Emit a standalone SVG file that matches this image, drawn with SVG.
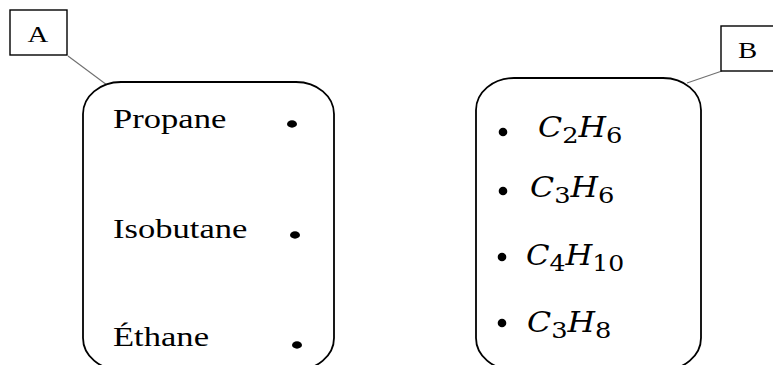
<svg xmlns="http://www.w3.org/2000/svg" width="773" height="365" viewBox="0 0 773 365">
<style>
.box{fill:none;stroke:#000;stroke-width:1.8}
.lbl{fill:#fff;stroke:#000;stroke-width:1.4}
.lead{stroke:#707070;stroke-width:1.1;fill:none}
.t{font-family:"Liberation Serif","Times New Roman",serif;font-size:28px;fill:#000}
.l{font-family:"Liberation Serif","Times New Roman",serif;font-size:24px;fill:#000}
.f{font-family:"DejaVu Serif","Liberation Serif",serif;font-size:27px;font-style:italic;fill:#000}
.s{font-style:normal;font-size:22px}
.dot{fill:#000}
</style>
<g id="connectors">
<line class="lead" x1="68" y1="56" x2="107" y2="85"/>
<line class="lead" x1="687" y1="83" x2="722" y2="71"/>
</g>
<g id="labelA">
<rect class="lbl" x="10" y="10" width="57" height="45"/>
<text class="l" text-anchor="middle" transform="translate(38,42) scale(1.2,1)">A</text>
</g>
<g id="labelB">
<rect class="lbl" x="721" y="26" width="60" height="45"/>
<text class="l" text-anchor="middle" transform="translate(747.5,58) scale(1.2,1)">B</text>
</g>
<g id="setA">
<rect class="box" x="83" y="82" width="251" height="288" rx="38" ry="32"/>
<text class="t" transform="translate(113,128) scale(1.235,1)">Propane</text>
<text class="t" transform="translate(113,238) scale(1.235,1)">Isobutane</text>
<text class="t" transform="translate(113,346) scale(1.235,1)">Éthane</text>
<ellipse class="dot" cx="292" cy="124" rx="5" ry="3.7"/>
<ellipse class="dot" cx="295" cy="235" rx="5" ry="3.7"/>
<ellipse class="dot" cx="297" cy="345" rx="5" ry="3.7"/>
</g>
<g id="setB">
<rect class="box" x="476" y="78" width="225" height="292" rx="38" ry="32"/>
<circle class="dot" cx="503" cy="132" r="4.3"/>
<circle class="dot" cx="503" cy="191" r="4.3"/>
<circle class="dot" cx="502" cy="257" r="4.3"/>
<circle class="dot" cx="502" cy="323" r="4.3"/>
<text class="f" transform="translate(538,137) scale(1.17,1)">C<tspan class="s" dy="6">2</tspan><tspan dy="-6">H</tspan><tspan class="s" dy="6">6</tspan></text>
<text class="f" transform="translate(530,197) scale(1.17,1)">C<tspan class="s" dy="6">3</tspan><tspan dy="-6">H</tspan><tspan class="s" dy="6">6</tspan></text>
<text class="f" transform="translate(526,265) scale(1.14,1)">C<tspan class="s" dy="6">4</tspan><tspan dy="-6">H</tspan><tspan class="s" dy="6">10</tspan></text>
<text class="f" transform="translate(527,332) scale(1.17,1)">C<tspan class="s" dy="6">3</tspan><tspan dy="-6">H</tspan><tspan class="s" dy="6">8</tspan></text>
</g>
</svg>
